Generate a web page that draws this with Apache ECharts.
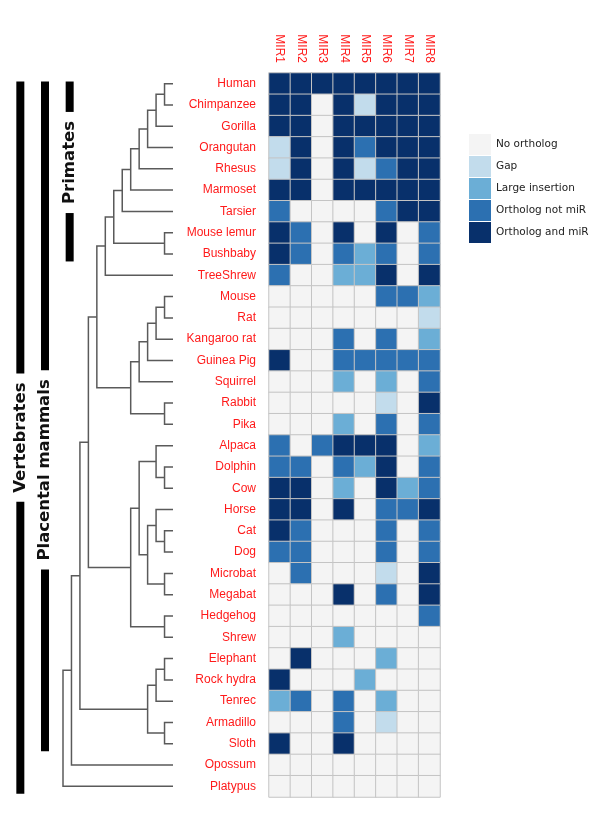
<!DOCTYPE html>
<html>
<head>
<meta charset="utf-8">
<script src="https://cdn.jsdelivr.net/npm/echarts@6/dist/echarts.min.js"></script>
<style>
  html, body { margin: 0; padding: 0; background: #fff; }
  #chart { width: 600px; height: 826px; }
</style>
</head>
<body>
<div id="chart"></div>
<script>
const mirNames = ['MIR1', 'MIR2', 'MIR3', 'MIR4', 'MIR5', 'MIR6', 'MIR7', 'MIR8'];

const species = [
  'Human', 'Chimpanzee', 'Gorilla', 'Orangutan', 'Rhesus', 'Marmoset', 'Tarsier',
  'Mouse lemur', 'Bushbaby', 'TreeShrew', 'Mouse', 'Rat', 'Kangaroo rat', 'Guinea Pig',
  'Squirrel', 'Rabbit', 'Pika', 'Alpaca', 'Dolphin', 'Cow', 'Horse', 'Cat', 'Dog',
  'Microbat', 'Megabat', 'Hedgehog', 'Shrew', 'Elephant', 'Rock hydra', 'Tenrec',
  'Armadillo', 'Sloth', 'Opossum', 'Platypus'
];

const statusLabels = ['No ortholog', 'Gap', 'Large insertion', 'Ortholog not miR', 'Ortholog and miR'];

// one row per species, one value per MIR (index into statusLabels)
const status = [
  [4, 4, 4, 4, 4, 4, 4, 4], // Human
  [4, 4, 0, 4, 1, 4, 4, 4], // Chimpanzee
  [4, 4, 0, 4, 4, 4, 4, 4], // Gorilla
  [1, 4, 0, 4, 3, 4, 4, 4], // Orangutan
  [1, 4, 0, 4, 1, 3, 4, 4], // Rhesus
  [4, 4, 0, 4, 4, 4, 4, 4], // Marmoset
  [3, 0, 0, 0, 0, 3, 4, 4], // Tarsier
  [4, 3, 0, 4, 0, 4, 0, 3], // Mouse lemur
  [4, 3, 0, 3, 2, 3, 0, 3], // Bushbaby
  [3, 0, 0, 2, 2, 4, 0, 4], // TreeShrew
  [0, 0, 0, 0, 0, 3, 3, 2], // Mouse
  [0, 0, 0, 0, 0, 0, 0, 1], // Rat
  [0, 0, 0, 3, 0, 3, 0, 2], // Kangaroo rat
  [4, 0, 0, 3, 3, 3, 3, 3], // Guinea Pig
  [0, 0, 0, 2, 0, 2, 0, 3], // Squirrel
  [0, 0, 0, 0, 0, 1, 0, 4], // Rabbit
  [0, 0, 0, 2, 0, 3, 0, 3], // Pika
  [3, 0, 3, 4, 4, 4, 0, 2], // Alpaca
  [3, 3, 0, 3, 2, 4, 0, 3], // Dolphin
  [4, 4, 0, 2, 0, 4, 2, 3], // Cow
  [4, 4, 0, 4, 0, 3, 3, 4], // Horse
  [4, 3, 0, 0, 0, 3, 0, 3], // Cat
  [3, 3, 0, 0, 0, 3, 0, 3], // Dog
  [0, 3, 0, 0, 0, 1, 0, 4], // Microbat
  [0, 0, 0, 4, 0, 3, 0, 4], // Megabat
  [0, 0, 0, 0, 0, 0, 0, 3], // Hedgehog
  [0, 0, 0, 2, 0, 0, 0, 0], // Shrew
  [0, 4, 0, 0, 0, 2, 0, 0], // Elephant
  [4, 0, 0, 0, 2, 0, 0, 0], // Rock hydra
  [2, 3, 0, 3, 0, 2, 0, 0], // Tenrec
  [0, 0, 0, 3, 0, 1, 0, 0], // Armadillo
  [4, 0, 0, 4, 0, 0, 0, 0], // Sloth
  [0, 0, 0, 0, 0, 0, 0, 0], // Opossum
  [0, 0, 0, 0, 0, 0, 0, 0]  // Platypus
];

// dendrogram: [height, left, right], leaves are species names
const tree =
  [13,
    [12,
      [11,
        [10,
          [9,
            [8,
              [7,
                [6, [5, [4, [3, [2, [1, 'Human', 'Chimpanzee'], 'Gorilla'], 'Orangutan'], 'Rhesus'], 'Marmoset'], 'Tarsier'],
                [1, 'Mouse lemur', 'Bushbaby']],
              'TreeShrew'],
            [5,
              [4, [3, [2, [1, 'Mouse', 'Rat'], 'Kangaroo rat'], 'Guinea Pig'], 'Squirrel'],
              [1, 'Rabbit', 'Pika']]],
          [5,
            [4,
              [2, 'Alpaca', [1, 'Dolphin', 'Cow']],
              [3, [2, 'Horse', [1, 'Cat', 'Dog']], [1, 'Microbat', 'Megabat']]],
            [1, 'Hedgehog', 'Shrew']]],
        [3,
          [2, [1, 'Elephant', 'Rock hydra'], 'Tenrec'],
          [1, 'Armadillo', 'Sloth']]],
      'Opossum'],
    'Platypus'];

const clades = ['Vertebrates', 'Placental mammals', 'Primates'];
const cladeFirst = ['Human', 'Human', 'Human'];
const cladeLast = ['Platypus', 'Sloth', 'Bushbaby'];

const colors = ['#f4f4f4', '#c2dcec', '#6baed6', '#2c70b1', '#08306b'];
const labelRed = '#ff1a1a';
const cladeFont = 'bold 16.5px "DejaVu Sans"';
const cladeLabelAt = [0.5, 0.58, 0.45]; // where the label sits along each bar

// heatmap cells
const cells = [];
status.forEach((row, r) => row.forEach((v, c) => cells.push([c, r, v])));

// dendrogram elbows
const treeLines = [];
function walk(node) {
  if (typeof node === 'string') return { x: 0, y: species.indexOf(node) };
  const [h, a, b] = node;
  const l = walk(a), r = walk(b);
  treeLines.push({ coords: [[l.x, l.y], [h, l.y], [h, r.y], [r.x, r.y]] });
  return { x: h, y: (l.y + r.y) / 2 };
}
walk(tree);

const measureCtx = document.createElement('canvas').getContext('2d');
const textWidth = (s) => { measureCtx.font = cladeFont; return measureCtx.measureText(s).width; };

const gridTop = 73, gridHeight = 724;

const chart = echarts.init(document.getElementById('chart'));
chart.setOption({
  animation: false,
  backgroundColor: '#fff',
  grid: [
    { left: 269, top: gridTop, width: 171, height: gridHeight },
    { left: 63, top: gridTop, width: 110, height: gridHeight },
    { left: 8, top: gridTop, width: 74, height: gridHeight }
  ],
  xAxis: [
    {
      gridIndex: 0, type: 'category', data: mirNames, position: 'top',
      axisLine: { show: false }, axisTick: { show: false }, splitLine: { show: false },
      axisLabel: { rotate: 90, margin: 10, color: labelRed, fontSize: 12, fontFamily: 'Liberation Sans' }
    },
    { gridIndex: 1, type: 'value', min: 0, max: 13, inverse: true, show: false },
    { gridIndex: 2, type: 'category', data: clades, show: false }
  ],
  yAxis: [
    {
      gridIndex: 0, type: 'category', data: species, inverse: true,
      axisLine: { show: false }, axisTick: { show: false }, splitLine: { show: false },
      axisLabel: { margin: 13, color: labelRed, fontSize: 12, fontFamily: 'Liberation Sans' }
    },
    { gridIndex: 1, type: 'value', min: -0.5, max: species.length - 0.5, inverse: true, show: false },
    { gridIndex: 2, type: 'value', min: -0.5, max: species.length - 0.5, inverse: true, show: false }
  ],
  visualMap: {
    type: 'piecewise',
    seriesIndex: 0,
    dimension: 2,
    orient: 'vertical',
    inverse: true,
    align: 'left',
    left: 469,
    top: 134,
    padding: 0,
    itemWidth: 22,
    itemHeight: 21,
    itemGap: 1,
    itemSymbol: 'rect',
    textGap: 5,
    selectedMode: false,
    hoverLink: false,
    textStyle: { color: '#222', fontSize: 10.5, fontFamily: 'DejaVu Sans' },
    pieces: statusLabels.map((label, i) => ({ value: i, label: label, color: colors[i] }))
  },
  series: [
    {
      type: 'heatmap',
      xAxisIndex: 0, yAxisIndex: 0,
      data: cells,
      silent: true,
      itemStyle: { borderColor: '#c4c4c4', borderWidth: 1 }
    },
    {
      type: 'lines',
      coordinateSystem: 'cartesian2d',
      xAxisIndex: 1, yAxisIndex: 1,
      polyline: true,
      silent: true,
      data: treeLines,
      lineStyle: { color: '#5a5a5a', width: 1.5, opacity: 1 }
    },
    {
      type: 'custom',
      xAxisIndex: 2, yAxisIndex: 2,
      silent: true,
      data: clades.map((c, i) => [i, species.indexOf(cladeFirst[i]), species.indexOf(cladeLast[i])]),
      renderItem: (params, api) => {
        const i = params.dataIndex;
        const a = api.coord([i, api.value(1) - 0.1]);
        const b = api.coord([i, api.value(2) + 0.35]);
        const w = 8;
        const mid = a[1] + (b[1] - a[1]) * cladeLabelAt[i];
        const gap = textWidth(clades[i]) / 2 + 9;
        return {
          type: 'group',
          children: [
            { type: 'rect', shape: { x: a[0] - w / 2, y: a[1], width: w, height: mid - gap - a[1] }, style: { fill: '#000' } },
            { type: 'rect', shape: { x: a[0] - w / 2, y: mid + gap, width: w, height: b[1] - mid - gap }, style: { fill: '#000' } },
            {
              type: 'text', x: a[0], y: mid, rotation: Math.PI / 2,
              style: { text: clades[i], font: cladeFont, fill: '#111', align: 'center', verticalAlign: 'middle' }
            }
          ]
        };
      }
    }
  ]
});
</script>
</body>
</html>
